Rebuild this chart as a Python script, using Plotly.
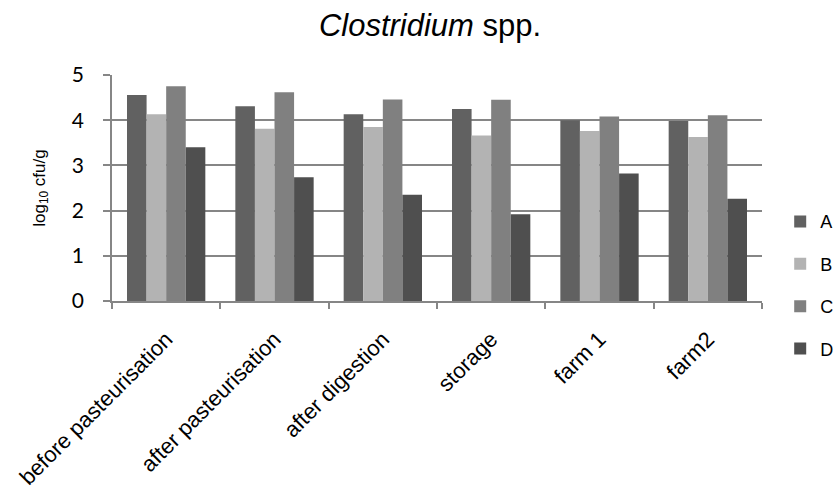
import plotly.graph_objects as go

categories = ["before pasteurisation", "after pasteurisation", "after digestion",
              "storage", "farm 1", "farm2"]
series_names = ["A", "B", "C", "D"]
A = [4.56, 4.31, 4.13, 4.25, 4.00, 3.98]
B = [4.13, 3.81, 3.85, 3.66, 3.76, 3.63]
C = [4.75, 4.62, 4.46, 4.45, 4.08, 4.11]
D = [3.40, 2.74, 2.35, 1.92, 2.82, 2.26]
y_ticks = [0, 1, 2, 3, 4, 5]

colors = ["#616161", "#b3b3b3", "#808080", "#4f4f4f"]
values = [A, B, C, D]

fig = go.Figure()
for name, vals, col in zip(series_names, values, colors):
    fig.add_trace(go.Bar(x=categories, y=vals, name=name, legendgroup=name,
                         marker=dict(color=col, line=dict(width=0))))

grid = "#868686"
fig.update_layout(
    width=835, height=493,
    margin=dict(l=112, r=73, t=75, b=192, autoexpand=False),
    paper_bgcolor="white", plot_bgcolor="white",
    barmode="group", bargap=0.277, bargroupgap=0,
    title=dict(text="<i>Clostridium</i> spp.", x=0.515, xref="container",
               y=0.949, yref="container", xanchor="center", yanchor="middle",
               font=dict(family="Liberation Sans, Arial", size=31, color="#000")),
    legend=dict(x=1.028, y=0.07, xanchor="left", yanchor="middle",
                font=dict(family="Liberation Sans, Arial", size=18, color="#000"),
                tracegroupgap=16, itemwidth=30, bgcolor="rgba(0,0,0,0)"),
    showlegend=True,
)
fig.update_xaxes(
    showline=True, linecolor=grid, linewidth=1.5,
    ticks="outside", tickson="boundaries", ticklen=6, tickcolor=grid, tickwidth=1.5,
    tickangle=-45, ticklabelstandoff=15,
    tickfont=dict(family="Liberation Sans, Arial", size=22, color="#000"),
    showgrid=False, automargin=False,
)
fig.update_yaxes(
    range=[0, 5], tickvals=y_ticks, ticktext=[str(v) for v in y_ticks],
    showline=True, linecolor=grid, linewidth=1.5,
    showgrid=True, gridcolor=grid, gridwidth=1.5,
    ticks="outside", ticklen=7, tickcolor=grid, tickwidth=1.5,
    ticklabelstandoff=15,
    tickfont=dict(family="Lato, Open Sans, sans-serif", size=21, color="#000"),
    title=dict(text="log<sub>10</sub> cfu/g", standoff=22,
               font=dict(family="Liberation Sans, Arial", size=17, color="#000")),
    zeroline=False, automargin=False,
)

fig.write_html(
    "out.html",
    config={"displayModeBar": False},
    post_script="document.body.style.margin='0';document.body.style.overflow='hidden';",
)
